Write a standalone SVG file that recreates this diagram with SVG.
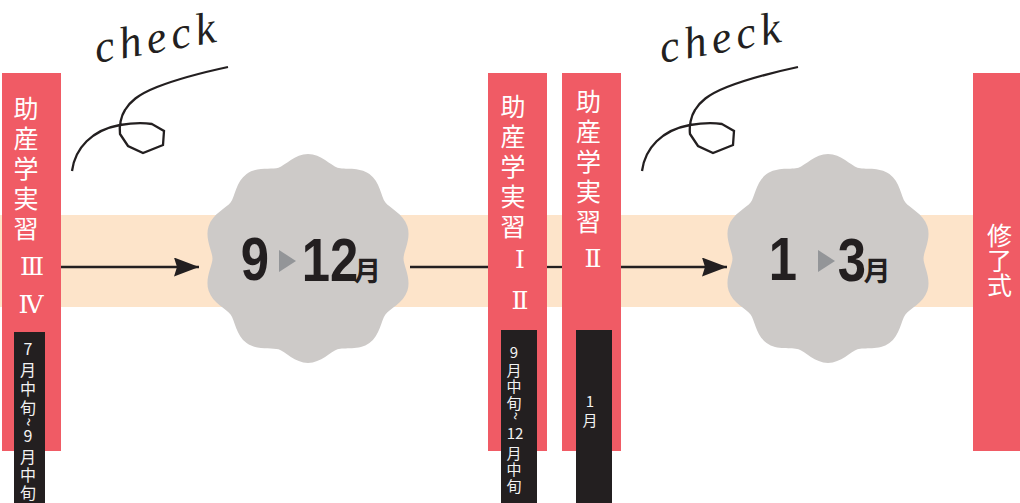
<svg xmlns="http://www.w3.org/2000/svg" width="1020" height="503" viewBox="0 0 1020 503">
<style>
.bar{fill:#F05B65}
.box{fill:#231F20}
.jp{font-family:'Noto Sans CJK JP',sans-serif;fill:#fff;font-size:25px;text-anchor:middle}
.rn{font-family:'DejaVu Serif','Liberation Serif','Noto Sans CJK JP',serif;fill:#fff;font-size:25px;text-anchor:middle}
.sm{font-family:'Noto Sans CJK JP',sans-serif;fill:#F2F2F2;font-size:16px;text-anchor:middle}
.sm2{font-family:'Noto Sans CJK JP',sans-serif;fill:#F2F2F2;font-size:15px;text-anchor:middle}
.blob{fill:#CDCAC8}
.num{font-family:'Liberation Sans',Arial,sans-serif;font-weight:700;font-size:62px;fill:#231F20;text-anchor:middle}
.mon{font-family:'Noto Sans CJK JP',sans-serif;font-weight:700;font-size:27px;fill:#231F20;text-anchor:middle}
.tri{fill:#939598}
.ln{stroke:#231F20;stroke-width:2.3;fill:none}
.chk{font-family:'Liberation Serif',serif;font-style:italic;font-size:45px;letter-spacing:5px;fill:#231F20}
</style>
<defs>
<marker id="ah" markerUnits="userSpaceOnUse" viewBox="0 0 25 19" refX="25" refY="9.5" markerWidth="25" markerHeight="19" orient="auto">
<path d="M0,0 L25,9.5 L0,19 L3,9.5 Z" fill="#231F20"/>
</marker>
<path id="scallop" d="M0,-104.5 C13,-104.5 22.85,-92.99 29.51,-90.83 C36.17,-88.67 50.91,-92.18 61.43,-84.54 C71.95,-76.9 73.15,-61.79 77.26,-56.13 C81.37,-50.47 95.37,-44.65 99.39,-32.29 C103.41,-19.93 95.5,-7 95.5,0 C95.5,7 103.41,19.93 99.39,32.29 C95.37,44.65 81.37,50.47 77.26,56.13 C73.15,61.79 71.95,76.9 61.43,84.54 C50.91,92.18 36.17,88.67 29.51,90.83 C22.85,92.99 13,104.5 0,104.5 C-13,104.5 -22.85,92.99 -29.51,90.83 C-36.17,88.67 -50.91,92.18 -61.43,84.54 C-71.95,76.9 -73.15,61.79 -77.26,56.13 C-81.37,50.47 -95.37,44.65 -99.39,32.29 C-103.41,19.93 -95.5,7 -95.5,0 C-95.5,-7 -103.41,-19.93 -99.39,-32.29 C-95.37,-44.65 -81.37,-50.47 -77.26,-56.13 C-73.15,-61.79 -71.95,-76.9 -61.43,-84.54 C-50.91,-92.18 -36.17,-88.67 -29.51,-90.83 C-22.85,-92.99 -13,-104.5 0,-104.5 Z"/>
<path id="loop" d="M72,171 C75,148 92,130 120,125 C132,123 145,123 152,124 L164,131 L163,145 L143,153 L128,146 L120,134 C119,126 121,116 125,110 C130,102 137,95 157,87 C175,80 200,73 228,67"/>
</defs>

<rect id="band" x="0" y="215" width="975" height="92" fill="#FDE4CA"/>

<g id="connectors">
<path class="ln" d="M61,267 H199" marker-end="url(#ah)"/>
<path class="ln" d="M410,267 H488"/>
<path class="ln" d="M547,267 H562"/>
<path class="ln" d="M621,267 H727" marker-end="url(#ah)"/>
</g>

<g id="check1">
<text class="chk" x="97" y="63" transform="rotate(-10 97 63)">check</text>
<use href="#loop" class="ln"/>
</g>
<g id="check2">
<text class="chk" x="662" y="63" transform="rotate(-10 662 63)">check</text>
<use href="#loop" class="ln" transform="translate(570,0)"/>
</g>

<g id="practice34">
<rect class="bar" x="2" y="73" width="59" height="378"/>
<text class="jp"><tspan x="26" y="118">助</tspan><tspan x="26" y="148">産</tspan><tspan x="26" y="178">学</tspan><tspan x="26" y="208">実</tspan><tspan x="26" y="238">習</tspan></text>
<text class="rn"><tspan x="32" y="275">Ⅲ</tspan><tspan x="31" y="313">Ⅳ</tspan></text>
<rect class="box" x="14" y="332" width="31" height="171"/>
<text class="sm"><tspan x="28" y="355">7</tspan><tspan x="28" y="376">月</tspan><tspan x="28" y="395">中</tspan><tspan x="28" y="414">旬</tspan></text>
<text class="sm" font-size="14" transform="rotate(90 28 422)" x="28" y="427">~</text>
<text class="sm"><tspan x="28" y="442">9</tspan><tspan x="28" y="463">月</tspan><tspan x="28" y="481">中</tspan><tspan x="28" y="499">旬</tspan></text>
</g>

<g id="period1">
<use href="#scallop" class="blob" transform="translate(308,258.5)"/>
<text class="num" transform="translate(255,280) scale(0.82,1)">9</text>
<path class="tri" d="M279,250 L296,261 L279,272 Z"/>
<text class="num" transform="translate(330,281) scale(0.82,1)">12</text>
<text class="mon" x="367.5" y="281">月</text>
</g>

<g id="practice12">
<rect class="bar" x="488" y="73" width="59" height="378"/>
<text class="jp"><tspan x="513" y="116">助</tspan><tspan x="513" y="146">産</tspan><tspan x="513" y="176">学</tspan><tspan x="513" y="206">実</tspan><tspan x="513" y="236">習</tspan></text>
<text class="rn"><tspan x="520" y="268">Ⅰ</tspan><tspan x="520" y="309">Ⅱ</tspan></text>
<rect class="box" x="501" y="330" width="36" height="173"/>
<text class="sm2"><tspan x="514" y="358">9</tspan><tspan x="514" y="376">月</tspan><tspan x="514" y="392">中</tspan><tspan x="514" y="409">旬</tspan></text>
<text class="sm2" font-size="13" transform="rotate(90 514 416)" x="514" y="420">~</text>
<text class="sm2"><tspan x="515" y="439">12</tspan><tspan x="514" y="459">月</tspan><tspan x="514" y="475">中</tspan><tspan x="514" y="492">旬</tspan></text>
</g>

<g id="practice2">
<rect class="bar" x="562" y="73" width="59" height="378"/>
<text class="jp"><tspan x="588.5" y="111">助</tspan><tspan x="588.5" y="141">産</tspan><tspan x="588.5" y="171">学</tspan><tspan x="588.5" y="201">実</tspan><tspan x="588.5" y="231">習</tspan></text>
<text class="rn"><tspan x="593" y="267">Ⅱ</tspan></text>
<rect class="box" x="576" y="330" width="36" height="173"/>
<text class="sm2"><tspan x="590" y="407">1</tspan><tspan x="590" y="426">月</tspan></text>
</g>

<g id="period2">
<use href="#scallop" class="blob" transform="translate(828,258.5)"/>
<text class="num" transform="translate(783,280) scale(0.82,1)">1</text>
<path class="tri" d="M818,250 L835,261 L818,272 Z"/>
<text class="num" transform="translate(852,281) scale(0.82,1)">3</text>
<text class="mon" x="877" y="281">月</text>
</g>

<g id="graduation">
<rect class="bar" x="973" y="73" width="47" height="378"/>
<text class="jp" font-size="24"><tspan x="999.5" y="245">修</tspan><tspan x="999.5" y="270">了</tspan><tspan x="999.5" y="295">式</tspan></text>
</g>
</svg>
